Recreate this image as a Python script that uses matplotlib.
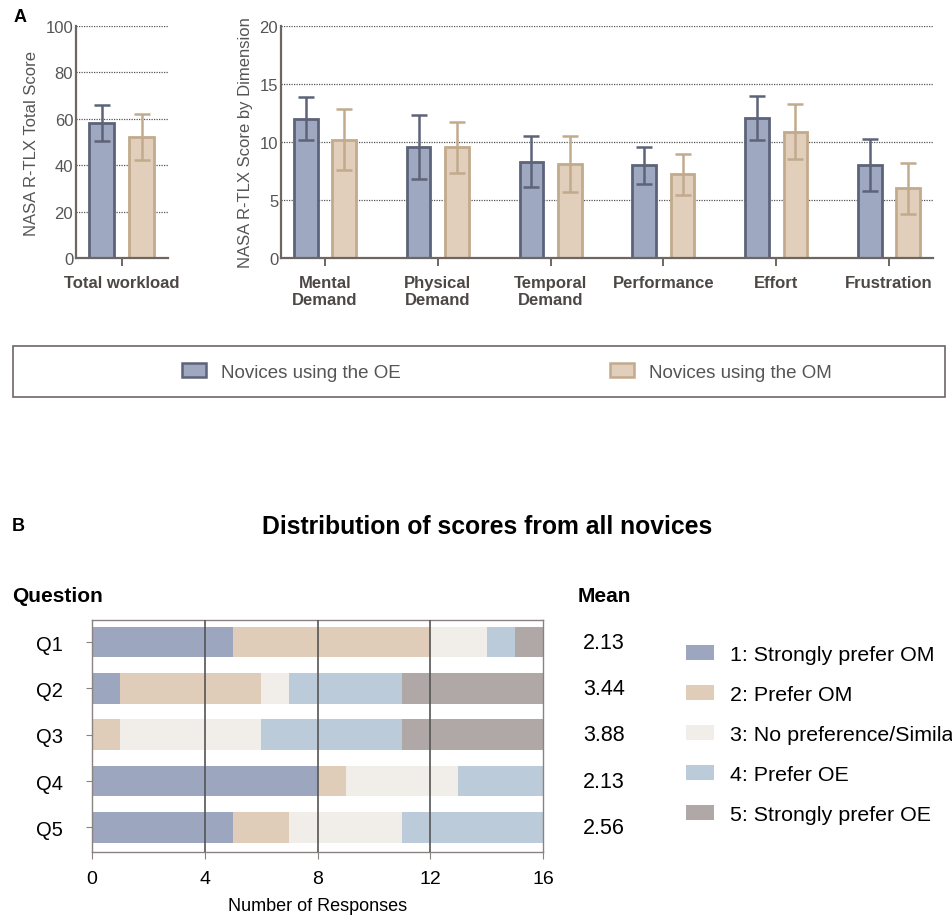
import numpy as np
import matplotlib
matplotlib.use("Agg")
import matplotlib.pyplot as plt
from matplotlib.patches import Patch, Rectangle
from matplotlib.transforms import blended_transform_factory

plt.rcParams['font.family'] = ['Liberation Sans', 'DejaVu Sans']

# ---- panel A data ----
total_oe, total_oe_err = 58.3, 7.8
total_om, total_om_err = 52.1, 10.0
dims = ['Mental\nDemand', 'Physical\nDemand', 'Temporal\nDemand', 'Performance', 'Effort', 'Frustration']
dim_oe = [12.0, 9.6, 8.3, 8.0, 12.1, 8.05]
dim_oe_err = [1.85, 2.75, 2.2, 1.6, 1.9, 2.25]
dim_om = [10.2, 9.55, 8.1, 7.2, 10.9, 6.0]
dim_om_err = [2.65, 2.2, 2.4, 1.8, 2.4, 2.2]
group_labels = ['Novices using the OE', 'Novices using the OM']

# ---- panel B data ----
questions = ['Q1', 'Q2', 'Q3', 'Q4', 'Q5']
score_labels = ['1: Strongly prefer OM', '2: Prefer OM', '3: No preference/Similar',
                '4: Prefer OE', '5: Strongly prefer OE']
counts = [[5, 7, 2, 1, 1],
          [1, 5, 1, 4, 5],
          [0, 1, 5, 5, 5],
          [8, 1, 4, 3, 0],
          [5, 2, 4, 5, 0]]
means = ['2.13', '3.44', '3.88', '2.13', '2.56']

oe_fill, oe_edge = '#9ea8c1', '#5d6479'
om_fill, om_edge = '#e1cfbb', '#c2aa8d'
score_colors = ['#9ca6bf', '#e0cdb9', '#f1ede8', '#bccbd9', '#b0a8a6']
spine_col = '#6e6663'
txt_col = '#4d4846'

W, H = 952, 920
fig = plt.figure(figsize=(W / 100, H / 100), dpi=100)


def px_axes(x0, y0, x1, y1):
    return fig.add_axes([x0 / W, 1 - y1 / H, (x1 - x0) / W, (y1 - y0) / H])


def style_a(ax):
    for s in ['top', 'right']:
        ax.spines[s].set_visible(False)
    for s in ['left', 'bottom']:
        ax.spines[s].set_color(spine_col)
        ax.spines[s].set_linewidth(1.6)
    ax.tick_params(axis='y', length=0, labelsize=12, labelcolor='#555', pad=2)
    ax.tick_params(axis='x', length=6, width=1.4, color=spine_col, labelsize=12,
                   labelcolor=txt_col, pad=6)
    for lab in ax.get_xticklabels():
        lab.set_fontweight('bold')
    ax.yaxis.grid(True, linestyle=(0, (1, 1)), color='#555', linewidth=0.9)
    ax.set_axisbelow(True)


# total workload
ax1 = px_axes(76, 27, 168, 259)
ax1.bar([-0.22], [total_oe], 0.27, color=oe_fill, edgecolor=oe_edge, linewidth=2)
ax1.bar([0.215], [total_om], 0.27, color=om_fill, edgecolor=om_edge, linewidth=2)
ax1.errorbar([-0.22], [total_oe], yerr=[total_oe_err], fmt='none', ecolor=oe_edge,
             elinewidth=1.8, capsize=6, capthick=1.8)
ax1.errorbar([0.215], [total_om], yerr=[total_om_err], fmt='none', ecolor=om_edge,
             elinewidth=1.8, capsize=6, capthick=1.8)
ax1.set_xlim(-0.5, 0.5)
ax1.set_ylim(0, 100)
ax1.set_yticks([0, 20, 40, 60, 80, 100])
ax1.set_xticks([0])
ax1.set_xticklabels(['Total workload'])
ax1.set_ylabel('NASA R-TLX Total Score', fontsize=12, color='#555', labelpad=5)
style_a(ax1)

# by dimension
ax2 = px_axes(281, 27, 933, 259)
x = np.arange(len(dims))
off, bw = 0.17, 0.21
ax2.bar(x - off, dim_oe, bw, color=oe_fill, edgecolor=oe_edge, linewidth=2, label=group_labels[0])
ax2.bar(x + off, dim_om, bw, color=om_fill, edgecolor=om_edge, linewidth=2, label=group_labels[1])
ax2.errorbar(x - off, dim_oe, yerr=dim_oe_err, fmt='none', ecolor=oe_edge,
             elinewidth=1.8, capsize=6, capthick=1.8)
ax2.errorbar(x + off, dim_om, yerr=dim_om_err, fmt='none', ecolor=om_edge,
             elinewidth=1.8, capsize=6, capthick=1.8)
ax2.set_xlim(-0.39, len(dims) - 1 + 0.39)
ax2.set_ylim(0, 20)
ax2.set_yticks([0, 5, 10, 15, 20])
ax2.set_xticks(x)
ax2.set_xticklabels(dims, linespacing=1.2)
ax2.set_ylabel('NASA R-TLX Score by Dimension', fontsize=12, color='#555', labelpad=5)
style_a(ax2)

fig.text(14 / W, 1 - 18 / H, 'A', fontsize=13, fontweight='bold', va='center')

# legend box for panel A
fig.patches.append(Rectangle((13 / W, 1 - 398 / H), 932 / W, 51 / H, transform=fig.transFigure,
                             fill=False, edgecolor='#6e6663', linewidth=1.2))
handles = [Patch(facecolor=oe_fill, edgecolor=oe_edge, linewidth=1.8),
           Patch(facecolor=om_fill, edgecolor=om_edge, linewidth=1.8)]
leg_font = {'family': ['Liberation Sans Narrow', 'Liberation Sans'], 'size': 13.5}
for h, lab, xp in zip(handles, group_labels, [182, 610]):
    fig.legend([h], [lab], loc='center left', bbox_to_anchor=(xp / W, 1 - 373 / H),
               frameon=False, prop=leg_font, handlelength=1.3, handleheight=0.7,
               handletextpad=0.8, borderpad=0, borderaxespad=0, labelcolor='#555')

# ---- panel B ----
fig.text(12 / W, 1 - 527 / H, 'B', fontsize=13, fontweight='bold', va='center')
fig.text(487 / W, 1 - 527 / H, 'Distribution of scores from all novices', fontsize=17.8,
         fontweight='bold', ha='center', va='center')
fig.text(12 / W, 1 - 596 / H, 'Question', fontsize=15, fontweight='bold', va='center')
fig.text(578 / W, 1 - 596 / H, 'Mean', fontsize=15, fontweight='bold', va='center')

ax3 = px_axes(92, 621, 543, 853)
cnt = np.array(counts)
y = np.arange(len(questions))
left = np.zeros(len(questions))
for k in range(cnt.shape[1]):
    ax3.barh(y, cnt[:, k], 0.66, left=left, color=score_colors[k], label=score_labels[k],
             linewidth=0)
    left += cnt[:, k]
for v in [4, 8, 12]:
    ax3.axvline(v, color='#555', linewidth=1.2, zorder=5)
ax3.set_xlim(0, 16)
ax3.set_ylim(len(questions) - 1 + 0.53, -0.475)
ax3.set_xticks([0, 4, 8, 12, 16])
ax3.set_yticks(y)
ax3.set_yticklabels(questions)
for s in ax3.spines.values():
    s.set_color('#8a8280')
    s.set_linewidth(1.0)
ax3.tick_params(axis='y', length=4, color='#8a8280', labelsize=14.5, pad=17)
ax3.tick_params(axis='x', length=5, color='#8a8280', labelsize=14, pad=8)
ax3.set_xlabel('Number of Responses', fontsize=13, labelpad=7)

mean_tr = blended_transform_factory(fig.transFigure, ax3.transData)
for m, yy in zip(means, y):
    ax3.text(583 / W, yy, m, transform=mean_tr, fontsize=15.5, va='center', ha='left')

ax3.legend(loc='upper left', bbox_to_anchor=(686 / W, 1 - 646 / H),
           bbox_transform=fig.transFigure, frameon=False, fontsize=15.4,
           handlelength=1.3, handleheight=0.7, handletextpad=0.75,
           labelspacing=0.98, borderpad=0, borderaxespad=0)

fig.savefig('out.png', dpi=100)
